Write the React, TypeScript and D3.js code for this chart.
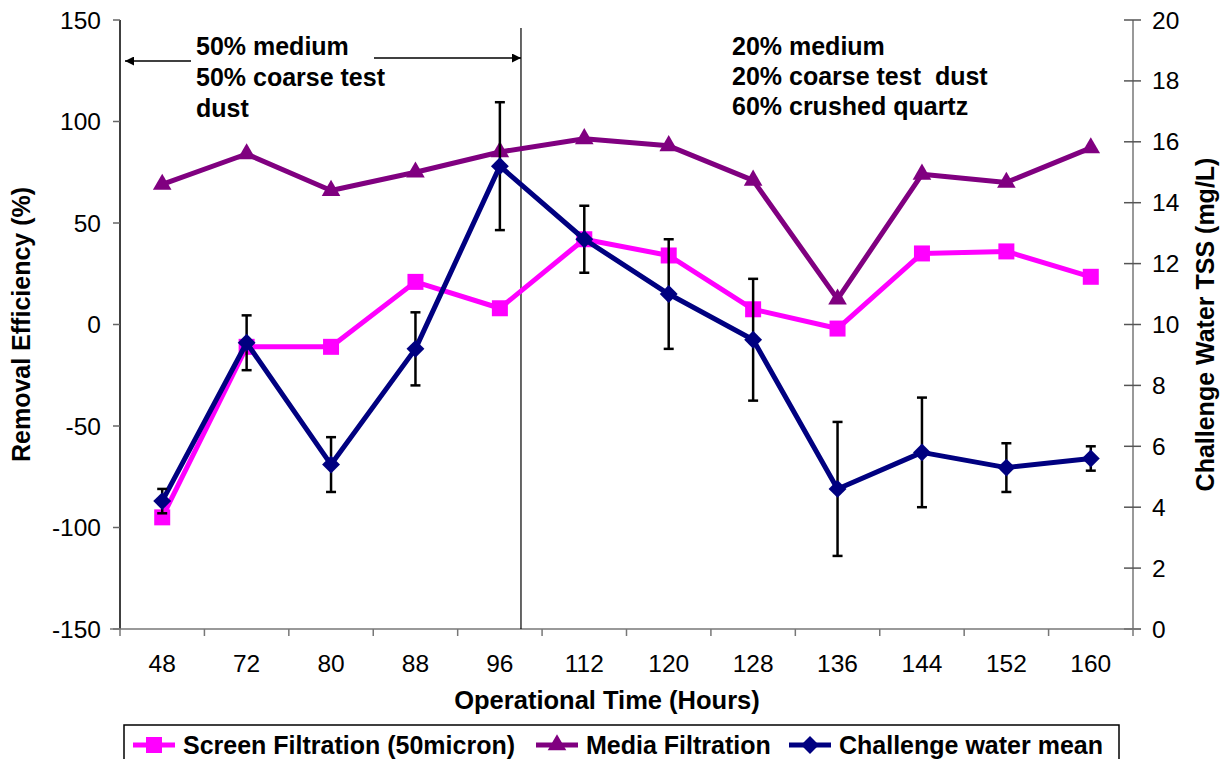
import React from "react";
import * as d3 from "d3";

const categories = ["48", "72", "80", "88", "96", "112", "120", "128", "136", "144", "152", "160"];
const screenFiltration = [-95, -11, -11, 21, 8, 42, 34, 7.5, -2, 35, 36, 23.5];
const mediaFiltration = [69, 84, 66, 75, 85, 91.5, 88, 71, 12.5, 74, 70, 87];
const challengeMean = [4.2, 9.4, 5.4, 9.2, 15.2, 12.8, 11.0, 9.5, 4.6, 5.8, 5.3, 5.6];
const challengeErr = [0.4, 0.9, 0.9, 1.2, 2.1, 1.1, 1.8, 2.0, 2.2, 1.8, 0.8, 0.4];
const leftTicks = [-150, -100, -50, 0, 50, 100, 150];
const rightTicks = [0, 2, 4, 6, 8, 10, 12, 14, 16, 18, 20];

const W = 1228;
const H = 759;
const left = 120;
const right = 1133;
const top = 20;
const bottom = 629;
const font = "'Liberation Sans', Arial, sans-serif";

const PINK = "#FF00FF";
const PURPLE = "#800080";
const NAVY = "#000080";

const App = () => {
  const x = d3.scaleBand().domain(categories).range([left, right]);
  const cx = (c: string) => (x(c) as number) + x.bandwidth() / 2;
  const yL = d3.scaleLinear().domain([-150, 150]).range([bottom, top]);
  const yR = d3.scaleLinear().domain([0, 20]).range([bottom, top]);

  const lineL = d3.line<number>().x((d, i) => cx(categories[i])).y(d => yL(d));
  const lineR = d3.line<number>().x((d, i) => cx(categories[i])).y(d => yR(d));

  const square = d3.symbol(d3.symbolSquare, 256)();
  const triangle = d3.symbol(d3.symbolTriangle, 150)();
  const diamond = d3.symbol(d3.symbolSquare, 160)();

  // divider between the two dust mixes, a quarter step past 96 h
  const divX = (x("96") as number) + x.bandwidth() * 0.75;

  const legendY = 745;
  const legend = [
    { label: "Screen Filtration (50micron)", color: PINK, path: square, rot: 0, x0: 133 },
    { label: "Media Filtration", color: PURPLE, path: triangle, rot: 0, x0: 536 },
    { label: "Challenge water mean", color: NAVY, path: diamond, rot: 45, x0: 789 },
  ];

  return (
    <svg width={W} height={H} style={{ position: "absolute", left: 0, top: 0, background: "#fff" }}
      fontFamily={font}>
      <defs>
        <marker id="arr" viewBox="0 0 10 10" refX="10" refY="5" markerWidth="12" markerHeight="9"
          markerUnits="userSpaceOnUse" orient="auto">
          <path d="M0,0 L10,5 L0,10 Z" fill="#000" />
        </marker>
      </defs>

      {/* left axis */}
      <line x1={left} x2={left} y1={top} y2={bottom} stroke="#000" strokeWidth={1.5} />
      {leftTicks.map(t => (
        <g key={"l" + t}>
          <line x1={left - 7} x2={left} y1={yL(t)} y2={yL(t)} stroke="#666" strokeWidth={1.5} />
          <text x={101} y={yL(t)} dy="0.35em" textAnchor="end" fontSize={24.5}>{t}</text>
        </g>
      ))}
      {/* right axis */}
      <line x1={right} x2={right} y1={top} y2={bottom} stroke="#777" strokeWidth={1.5} />
      {rightTicks.map(t => (
        <g key={"r" + t}>
          <line x1={right - 9} x2={right + 8} y1={yR(t)} y2={yR(t)} stroke="#555" strokeWidth={1.5} />
          <text x={1152} y={yR(t)} dy="0.35em" fontSize={24.5}>{t}</text>
        </g>
      ))}
      {/* bottom axis */}
      <line x1={left - 10} x2={right + 8} y1={bottom} y2={bottom} stroke="#777" strokeWidth={1.5} />
      {categories.map(c => (
        <line key={"t" + c} x1={x(c)} x2={x(c)} y1={bottom} y2={bottom + 7} stroke="#777" strokeWidth={1.5} />
      ))}
      <line x1={right} x2={right} y1={bottom} y2={bottom + 7} stroke="#777" strokeWidth={1.5} />
      {categories.map(c => (
        <text key={"x" + c} x={cx(c)} y={672} textAnchor="middle" fontSize={24.5}>{c}</text>
      ))}

      {/* axis titles */}
      <text x={607} y={709} textAnchor="middle" fontSize={25.5} fontWeight="bold">Operational Time (Hours)</text>
      <text transform={`translate(30,${(top + bottom) / 2}) rotate(-90)`} textAnchor="middle"
        fontSize={25} fontWeight="bold">Removal Efficiency (%)</text>
      <text transform={`translate(1214,${(top + bottom) / 2}) rotate(-90)`} textAnchor="middle"
        fontSize={25} fontWeight="bold">Challenge Water TSS (mg/L)</text>

      {/* divider and annotations */}
      <line x1={divX} x2={divX} y1={28} y2={bottom} stroke="#000" strokeWidth={1.2} />
      <line x1={191} x2={125} y1={61} y2={61} stroke="#000" strokeWidth={1.5} markerEnd="url(#arr)" />
      <line x1={374} x2={divX} y1={58} y2={58} stroke="#000" strokeWidth={1.5} markerEnd="url(#arr)" />
      <g fontSize={25} fontWeight="bold">
        <text x={196} y={55}>50% medium</text>
        <text x={196} y={86}>50% coarse test</text>
        <text x={196} y={117}>dust</text>
        <text x={732} y={55}>20% medium</text>
        <text x={732} y={85}>{"20% coarse test\u00A0 dust"}</text>
        <text x={732} y={115}>60% crushed quartz</text>
      </g>

      {/* screen filtration */}
      <path d={lineL(screenFiltration) || ""} fill="none" stroke={PINK} strokeWidth={5} strokeLinejoin="round" />
      {screenFiltration.map((v, i) => (
        <path key={"s" + i} d={square || ""} transform={`translate(${cx(categories[i])},${yL(v)})`} fill={PINK} />
      ))}

      {/* media filtration */}
      <path d={lineL(mediaFiltration) || ""} fill="none" stroke={PURPLE} strokeWidth={5} strokeLinejoin="round" />
      {mediaFiltration.map((v, i) => (
        <path key={"m" + i} d={triangle || ""} transform={`translate(${cx(categories[i])},${yL(v)})`} fill={PURPLE} />
      ))}

      {/* challenge water mean with error bars */}
      <path d={lineR(challengeMean) || ""} fill="none" stroke={NAVY} strokeWidth={5} strokeLinejoin="round" />
      {challengeMean.map((v, i) => {
        const px = cx(categories[i]);
        const y1 = yR(v + challengeErr[i]);
        const y2 = yR(v - challengeErr[i]);
        return (
          <g key={"e" + i} stroke="#000" strokeWidth={2.5}>
            <line x1={px} x2={px} y1={y1} y2={y2} />
            <line x1={px - 5} x2={px + 5} y1={y1} y2={y1} />
            <line x1={px - 5} x2={px + 5} y1={y2} y2={y2} />
          </g>
        );
      })}
      {challengeMean.map((v, i) => (
        <path key={"c" + i} d={diamond || ""} transform={`translate(${cx(categories[i])},${yR(v)}) rotate(45)`} fill={NAVY} />
      ))}

      {/* legend */}
      <rect x={124} y={725} width={995} height={44} fill="#fff" stroke="#000" strokeWidth={1.5} />
      {legend.map(l => (
        <g key={l.label}>
          <line x1={l.x0} x2={l.x0 + 42} y1={legendY} y2={legendY} stroke={l.color} strokeWidth={5} />
          <path d={l.path || ""} transform={`translate(${l.x0 + 21},${legendY}) rotate(${l.rot})`} fill={l.color} />
          <text x={l.x0 + 50} y={legendY} dy="0.35em" fontSize={25} fontWeight="bold">{l.label}</text>
        </g>
      ))}
    </svg>
  );
};

export default App;
